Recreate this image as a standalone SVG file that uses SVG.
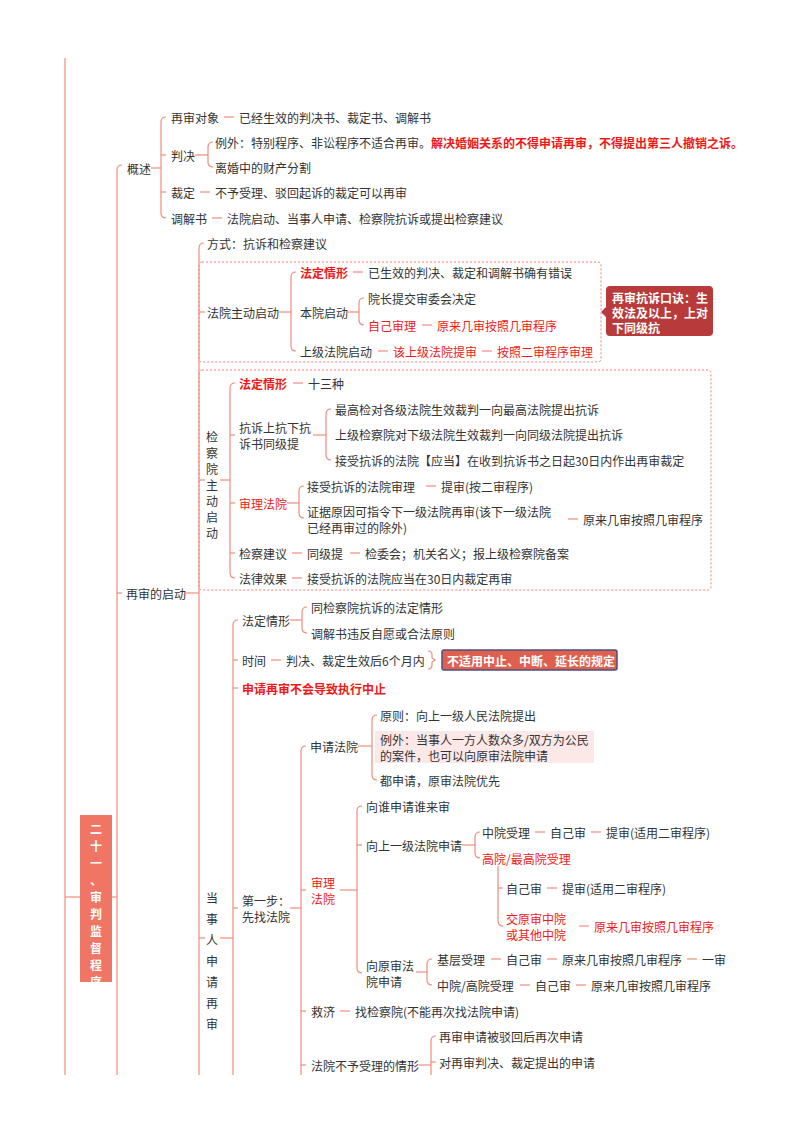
<svg xmlns="http://www.w3.org/2000/svg" width="800" height="1132" viewBox="0 0 800 1132">
<style>
text{font-family:"Noto Sans CJK SC","Liberation Sans",sans-serif;font-size:12px;fill:#333;dominant-baseline:central}
.r{fill:#f01818}.b{font-weight:bold}
.w{fill:#fff;font-weight:bold}
#conn path,#conn line{stroke:#f28b7d;stroke-width:1.2;fill:none}
.box{fill:none;stroke:#f08070;stroke-width:1;stroke-dasharray:2,2}
</style>
<rect width="800" height="1132" fill="#fff"/>
<g id="conn">
<line x1="65" y1="58" x2="65" y2="1075"/>
<line x1="65" y1="897" x2="80" y2="897"/><line x1="112" y1="897" x2="117" y2="897"/>
<path d="M122,165 Q117,165 117,170 V1075"/><line x1="117" y1="593" x2="122" y2="593"/>
<line x1="151" y1="168" x2="161" y2="168"/>
<path d="M166,117 Q161,117 161,122 V213 Q161,218 166,218"/><line x1="161" y1="155" x2="166" y2="155"/><line x1="161" y1="192" x2="166" y2="192"/>
<line x1="224" y1="117" x2="234" y2="117"/>
<line x1="195" y1="155" x2="208" y2="155"/>
<path d="M213,142 Q208,142 208,147 V162 Q208,167 213,167"/>
<line x1="200" y1="192" x2="210" y2="192"/>
<line x1="212" y1="218" x2="222" y2="218"/>
<line x1="186" y1="593" x2="199" y2="593"/>
<path d="M204,243 Q199,243 199,248 V1075"/>
<line x1="199" y1="312" x2="205" y2="312"/><line x1="199" y1="480" x2="205" y2="480"/><line x1="199" y1="938" x2="205" y2="938"/>
<line x1="279" y1="312" x2="291" y2="312"/>
<path d="M296,272 Q291,272 291,277 V346 Q291,351 296,351"/>
<line x1="353" y1="272" x2="363" y2="272"/>
<line x1="348" y1="312" x2="359" y2="312"/>
<path d="M364,298 Q359,298 359,303 V320 Q359,325 364,325"/>
<line x1="422" y1="325" x2="432" y2="325"/>
<line x1="378" y1="351" x2="388" y2="351"/><line x1="482" y1="351" x2="492" y2="351"/>
<line x1="220" y1="480" x2="230" y2="480"/>
<path d="M235,383 Q230,383 230,388 V573 Q230,578 235,578"/>
<line x1="230" y1="435" x2="235" y2="435"/><line x1="230" y1="503" x2="235" y2="503"/><line x1="230" y1="553" x2="235" y2="553"/>
<line x1="293" y1="383" x2="303" y2="383"/>
<line x1="313" y1="435" x2="326" y2="435"/>
<path d="M331,409 Q326,409 326,414 V455 Q326,460 331,460"/>
<line x1="287" y1="503" x2="299" y2="503"/>
<path d="M304,486 Q299,486 299,491 V513 Q299,518 304,518"/>
<line x1="426" y1="486" x2="436" y2="486"/>
<line x1="568" y1="519" x2="578" y2="519"/>
<line x1="292" y1="553" x2="302" y2="553"/><line x1="350" y1="553" x2="360" y2="553"/>
<line x1="292" y1="578" x2="302" y2="578"/>
<line x1="220" y1="938" x2="233" y2="938"/>
<path d="M238,620 Q233,620 233,625 V1075"/>
<line x1="233" y1="660" x2="238" y2="660"/><line x1="233" y1="688" x2="238" y2="688"/><line x1="233" y1="908" x2="238" y2="908"/>
<line x1="290" y1="620" x2="302" y2="620"/>
<path d="M307,607 Q302,607 302,612 V628 Q302,633 307,633"/>
<line x1="271" y1="660" x2="281" y2="660"/>
<path d="M428,651 Q432,651 432,655 V658 L435,660 L432,662 V665 Q432,669 428,669"/>
<line x1="290" y1="908" x2="301" y2="908"/>
<path d="M306,746 Q301,746 301,751 V1075"/>
<line x1="301" y1="890" x2="306" y2="890"/><line x1="301" y1="1011" x2="306" y2="1011"/><line x1="301" y1="1065" x2="306" y2="1065"/>
<line x1="358" y1="746" x2="372" y2="746"/>
<path d="M377,715 Q372,715 372,720 V775 Q372,780 377,780"/>
<line x1="340" y1="890" x2="357" y2="890"/>
<path d="M362,806 Q357,806 357,811 V968 Q357,973 362,973"/>
<line x1="357" y1="845" x2="362" y2="845"/>
<line x1="462" y1="845" x2="475" y2="845"/>
<path d="M480,832 Q475,832 475,837 V853 Q475,858 480,858"/>
<line x1="535" y1="832" x2="545" y2="832"/><line x1="591" y1="832" x2="601" y2="832"/>
<path d="M498,866 V921 Q498,926 503,926"/><line x1="498" y1="888" x2="503" y2="888"/>
<line x1="547" y1="888" x2="557" y2="888"/>
<line x1="579" y1="926" x2="589" y2="926"/>
<line x1="416" y1="972" x2="427" y2="972"/>
<path d="M432,959 Q427,959 427,964 V980 Q427,985 432,985"/>
<line x1="491" y1="959" x2="501" y2="959"/><line x1="547" y1="959" x2="557" y2="959"/><line x1="687" y1="959" x2="697" y2="959"/>
<line x1="520" y1="985" x2="530" y2="985"/><line x1="576" y1="985" x2="586" y2="985"/>
<line x1="340" y1="1011" x2="350" y2="1011"/>
<line x1="419" y1="1065" x2="431" y2="1065"/>
<path d="M436,1036 Q431,1036 431,1041 V1075"/><line x1="431" y1="1062" x2="436" y2="1062"/>
</g>
<rect class="box" x="199" y="262" width="402" height="100" rx="3"/>
<rect class="box" x="199" y="370" width="512" height="220" rx="3"/>
<g id="root"><rect x="80" y="815" width="32" height="167" fill="#f07565"/>
<text class="w" font-size="14" text-anchor="middle"><tspan x="96" y="828">二</tspan><tspan x="96" y="845">十</tspan><tspan x="96" y="862">一</tspan><tspan x="96" y="879">、</tspan><tspan x="96" y="896">审</tspan><tspan x="96" y="913">判</tspan><tspan x="96" y="930">监</tspan><tspan x="96" y="947">督</tspan><tspan x="96" y="964">程</tspan><tspan x="96" y="971" dy="10">序</tspan></text></g>
<g id="gaishu"><text x="127" y="168">概述</text>
<text x="171" y="117">再审对象</text><text x="239" y="117">已经生效的判决书、裁定书、调解书</text>
<text x="171" y="155">判决</text>
<text x="215" y="142">例外：特别程序、非讼程序不适合再审。<tspan class="r b">解决婚姻关系的不得申请再审，不得提出第三人撤销之诉。</tspan></text>
<text x="215" y="167">离婚中的财产分割</text>
<text x="171" y="192">裁定</text><text x="215" y="192">不予受理、驳回起诉的裁定可以再审</text>
<text x="171" y="218">调解书</text><text x="227" y="218">法院启动、当事人申请、检察院抗诉或提出检察建议</text></g>
<g id="qidong"><text x="126" y="593">再审的启动</text>
<text x="207" y="243">方式：抗诉和检察建议</text></g>
<g id="fayuan"><text x="207" y="312">法院主动启动</text>
<text x="300" y="272" class="r b">法定情形</text><text x="368" y="272">已生效的判决、裁定和调解书确有错误</text>
<text x="300" y="312">本院启动</text><text x="368" y="298">院长提交审委会决定</text>
<text x="368" y="325" class="r">自己审理</text><text x="437" y="325" class="r">原来几审按照几审程序</text>
<text x="300" y="351">上级法院启动</text><text x="393" y="351" class="r">该上级法院提审</text><text x="497" y="351" class="r">按照二审程序审理</text></g>
<g id="callout"><path d="M601,312 L606,307 V290 Q606,286 610,286 H709 Q713,286 713,290 V332 Q713,336 709,336 H610 Q606,336 606,332 V317 Z" fill="#b83a3a"/>
<text class="w" x="612" y="297">再审抗诉口诀：生</text><text class="w" x="612" y="312">效法及以上，上对</text><text class="w" x="612" y="327">下同级抗</text></g>
<g id="jianchayuan">
<text text-anchor="middle"><tspan x="212" y="436">检</tspan><tspan x="212" y="452">察</tspan><tspan x="212" y="468">院</tspan><tspan x="212" y="484">主</tspan><tspan x="212" y="500">动</tspan><tspan x="212" y="516">启</tspan><tspan x="212" y="532">动</tspan></text>
<text x="239" y="383" class="r b">法定情形</text><text x="308" y="383">十三种</text>
<text x="239" y="427">抗诉上抗下抗</text><text x="239" y="443">诉书同级提</text>
<text x="335" y="409">最高检对各级法院生效裁判一向最高法院提出抗诉</text>
<text x="335" y="434">上级检察院对下级法院生效裁判一向同级法院提出抗诉</text>
<text x="335" y="460">接受抗诉的法院【应当】在收到抗诉书之日起30日内作出再审裁定</text>
<text x="239" y="503" class="r">审理法院</text>
<text x="307" y="486">接受抗诉的法院审理</text><text x="441" y="486">提审(按二审程序)</text>
<text x="307" y="511">证据原因可指令下一级法院再审(该下一级法院</text><text x="307" y="527">已经再审过的除外)</text>
<text x="583" y="519">原来几审按照几审程序</text>
<text x="239" y="553">检察建议</text><text x="307" y="553">同级提</text><text x="365" y="553">检委会；机关名义；报上级检察院备案</text>
<text x="239" y="578">法律效果</text><text x="307" y="578">接受抗诉的法院应当在30日内裁定再审</text></g>
<g id="dangshiren">
<text text-anchor="middle"><tspan x="212" y="897">当</tspan><tspan x="212" y="918">事</tspan><tspan x="212" y="939">人</tspan><tspan x="212" y="960">申</tspan><tspan x="212" y="981">请</tspan><tspan x="212" y="1002">再</tspan><tspan x="212" y="1023">审</tspan></text>
<text x="242" y="620">法定情形</text><text x="311" y="607">同检察院抗诉的法定情形</text><text x="311" y="633">调解书违反自愿或合法原则</text>
<text x="242" y="660">时间</text><text x="286" y="660">判决、裁定生效后6个月内</text>
<rect x="442" y="650" width="175" height="20" fill="#e06050" stroke="#4a5080" stroke-width="1.5" rx="2"/>
<text class="w" x="447" y="660">不适用中止、中断、延长的规定</text>
<text x="242" y="688" class="r b">申请再审不会导致执行中止</text>
<text x="242" y="900">第一步：</text><text x="242" y="916">先找法院</text>
<text x="310" y="746">申请法院</text>
<text x="380" y="715">原则：向上一级人民法院提出</text>
<rect x="375" y="731" width="219" height="32" fill="#fde8e8"/>
<text x="380" y="739">例外：当事人一方人数众多/双方为公民</text><text x="380" y="755">的案件，也可以向原审法院申请</text>
<text x="380" y="780">都申请，原审法院优先</text>
<text x="311" y="882" class="r">审理</text><text x="311" y="898" class="r">法院</text>
<text x="366" y="806">向谁申请谁来审</text>
<text x="366" y="845">向上一级法院申请</text>
<text x="482" y="832">中院受理</text><text x="550" y="832">自己审</text><text x="606" y="832">提审(适用二审程序)</text>
<text x="482" y="858" class="r">高院/最高院受理</text>
<text x="506" y="888">自己审</text><text x="562" y="888">提审(适用二审程序)</text>
<text x="506" y="918" class="r">交原审中院</text><text x="506" y="934" class="r">或其他中院</text><text x="594" y="926" class="r">原来几审按照几审程序</text>
<text x="366" y="965">向原审法</text><text x="366" y="981">院申请</text>
<text x="437" y="959">基层受理</text><text x="506" y="959">自己审</text><text x="562" y="959">原来几审按照几审程序</text><text x="702" y="959">一审</text>
<text x="437" y="985">中院/高院受理</text><text x="535" y="985">自己审</text><text x="591" y="985">原来几审按照几审程序</text>
<text x="311" y="1011">救济</text><text x="355" y="1011">找检察院(不能再次找法院申请)</text>
<text x="311" y="1065">法院不予受理的情形</text>
<text x="439" y="1036">再审申请被驳回后再次申请</text><text x="439" y="1062">对再审判决、裁定提出的申请</text></g>
</svg>
